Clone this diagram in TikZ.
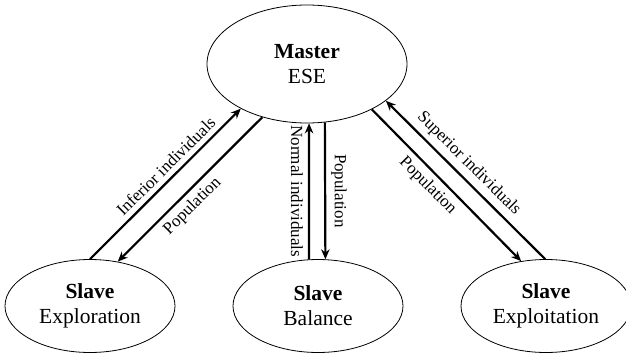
\documentclass[tikz,border=0pt]{standalone}
\usepackage{fontspec}
\setmainfont{Liberation Serif}
\usetikzlibrary{shapes.geometric,arrows.meta}

\begin{document}
\begin{tikzpicture}[x=1pt, y=-1pt, >={Stealth[length=10pt,width=8.5pt]},
  agent/.style={ellipse, draw, line width=0.8pt, minimum width=170pt, minimum height=93pt, align=center, font=\fontsize{21.5}{25}\selectfont},
  flow/.style={->, line width=2.2pt},
  lbl/.style={font=\fontsize{17}{19}\selectfont, inner sep=5pt}]
  \useasboundingbox (0,0) rectangle (626,356);
  % master and the three slaves
  \node[agent, minimum width=200pt, minimum height=118pt] (master) at (307,64) {\textbf{Master}\\ESE};
  \node[agent] (explore) at (90,306) {\textbf{Slave}\\Exploration};
  \node[agent] (balance) at (318,306) {\textbf{Slave}\\Balance};
  \node[agent] (exploit) at (546,306) {\textbf{Slave}\\Exploitation};
  % exploration pair
  \draw[flow] (explore.90) -- (master.214) node[lbl, pos=0.56, sloped, above] {Inferior individuals};
  \draw[flow, <-] (explore.58) -- (master.230) node[lbl, pos=0.45, sloped, below] {Population};
  % balance pair
  \draw[flow, <-] (master.272) -- (balance.101) node[lbl, midway, rotate=-90, below] {Normal individuals};
  \draw[flow] (master.287) -- (balance.81) node[lbl, midway, rotate=-90, above] {Population};
  % exploitation pair
  \draw[flow] (master.325) -- (exploit.119) node[lbl, pos=0.44, sloped, below] {Population};
  \draw[flow, <-] (master.335) -- (exploit.91) node[lbl, pos=0.46, sloped, above] {Superior individuals};
\end{tikzpicture}
\end{document}
